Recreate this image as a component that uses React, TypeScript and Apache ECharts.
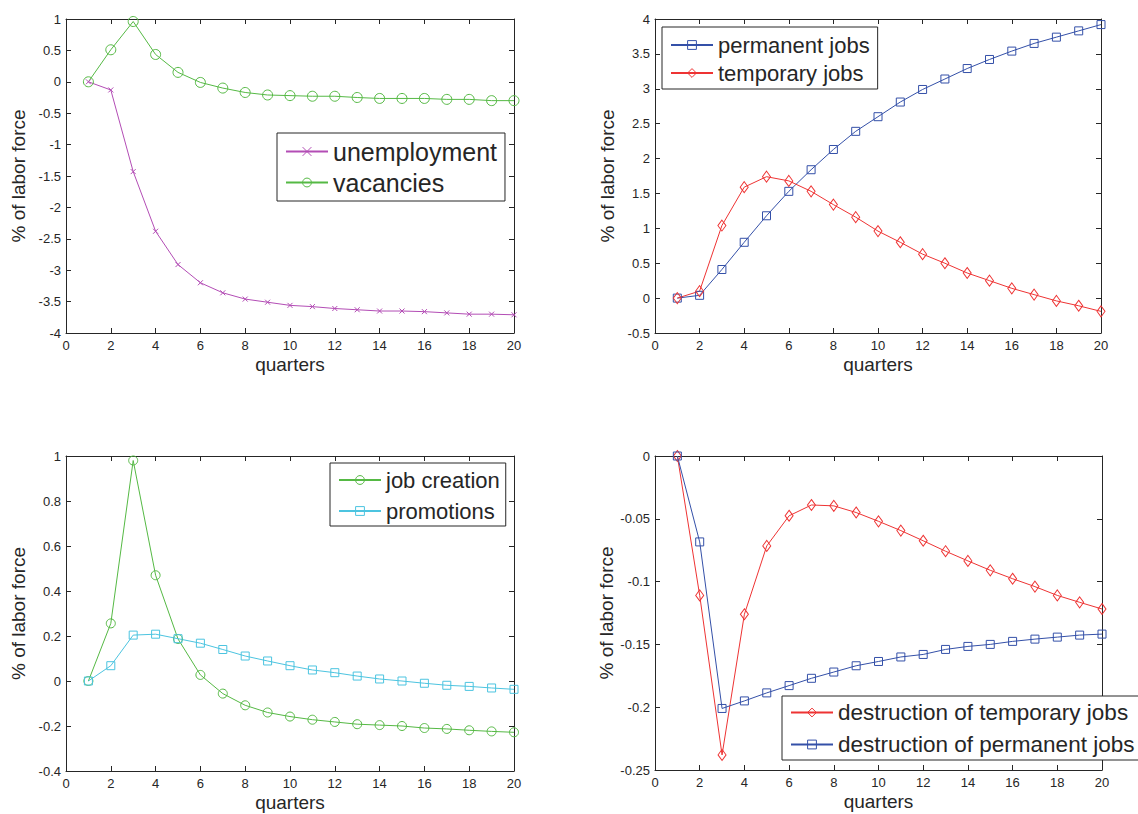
import React, { useEffect, useRef } from "react";
import * as echarts from "echarts";

const quarters = [1, 2, 3, 4, 5, 6, 7, 8, 9, 10, 11, 12, 13, 14, 15, 16, 17, 18, 19, 20];

const unemployment = [0, -0.13, -1.43, -2.38, -2.91, -3.2, -3.36, -3.46, -3.51, -3.56, -3.58, -3.61, -3.63, -3.65, -3.65, -3.66, -3.68, -3.7, -3.7, -3.71];
const vacancies = [0, 0.51, 0.96, 0.435, 0.15, -0.01, -0.1, -0.17, -0.21, -0.22, -0.23, -0.23, -0.25, -0.265, -0.265, -0.265, -0.28, -0.28, -0.3, -0.3];

const permanentJobs = [0, 0.04, 0.41, 0.8, 1.18, 1.53, 1.84, 2.13, 2.39, 2.6, 2.81, 2.99, 3.14, 3.29, 3.42, 3.54, 3.65, 3.74, 3.83, 3.92];
const temporaryJobs = [0, 0.1, 1.04, 1.59, 1.74, 1.68, 1.53, 1.34, 1.16, 0.96, 0.8, 0.63, 0.5, 0.36, 0.25, 0.14, 0.05, -0.04, -0.11, -0.19];

const jobCreation = [0, 0.256, 0.98, 0.47, 0.187, 0.027, -0.056, -0.108, -0.14, -0.158, -0.172, -0.182, -0.192, -0.196, -0.2, -0.209, -0.213, -0.219, -0.224, -0.228];
const promotions = [0, 0.068, 0.204, 0.208, 0.188, 0.168, 0.14, 0.111, 0.089, 0.068, 0.049, 0.037, 0.022, 0.009, 0.0, -0.01, -0.019, -0.024, -0.031, -0.037];

const destructionTemporary = [0, -0.111, -0.238, -0.126, -0.0716, -0.0476, -0.039, -0.0397, -0.045, -0.052, -0.0594, -0.0675, -0.0758, -0.0835, -0.091, -0.0977, -0.104, -0.111, -0.1165, -0.1218];
const destructionPermanent = [0, -0.0684, -0.201, -0.195, -0.1886, -0.1828, -0.177, -0.172, -0.167, -0.1636, -0.16, -0.158, -0.154, -0.1516, -0.15, -0.1476, -0.1458, -0.1442, -0.1426, -0.1418];

// x axis: [min, max, interval]
const xRange = [0, 20, 2];
// y axes per panel: [min, max, interval]
const yRange1 = [-4, 1, 0.5];
const yRange2 = [-0.5, 4, 0.5];
const yRange3 = [-0.4, 1, 0.2];
const yRange4 = [-0.25, 0, 0.05];

const xLabel = "quarters";
const yLabel = "% of labor force";

const AXIS = "#262626";
const FONT = "'Liberation Sans', Arial, Helvetica, sans-serif";
const C_MAG = "#b34db5";
const C_GREEN = "#55b944";
const C_BLUE = "#3450a8";
const C_RED = "#ee3333";
const C_CYAN = "#4cc4e0";
const X_SYMBOL = "path://M0,0L10,10M10,0L0,10";

const fmt = (v: number) => String(parseFloat(v.toFixed(4)));

export default function App() {
  const ref = useRef<HTMLDivElement>(null);

  useEffect(() => {
    if (!ref.current) return;
    const chart = echarts.init(ref.current, null, { renderer: "svg" });

    const grids = [
      { left: 66, top: 19, width: 448, height: 314 },
      { left: 655, top: 19, width: 446, height: 314 },
      { left: 66, top: 456, width: 448, height: 315 },
      { left: 655, top: 456, width: 447, height: 314 },
    ];
    const yRanges = [yRange1, yRange2, yRange3, yRange4];

    const xAxes: any[] = [];
    const yAxes: any[] = [];
    grids.forEach((_, i) => {
      xAxes.push({
        type: "value",
        gridIndex: i,
        position: "bottom",
        min: xRange[0],
        max: xRange[1],
        interval: xRange[2],
        name: xLabel,
        nameLocation: "middle",
        nameGap: 22,
        nameTextStyle: { fontSize: 19, color: AXIS, fontFamily: FONT },
        axisLine: { show: true, onZero: false, lineStyle: { color: AXIS, width: 1 } },
        axisTick: { show: true, inside: true, length: 5, lineStyle: { color: AXIS } },
        axisLabel: { fontSize: 13, color: AXIS, fontFamily: FONT, margin: 6, formatter: fmt },
        splitLine: { show: false },
      });
      xAxes.push({
        type: "value",
        gridIndex: i,
        position: "top",
        min: xRange[0],
        max: xRange[1],
        interval: xRange[2],
        axisLine: { show: true, onZero: false, lineStyle: { color: AXIS, width: 1 } },
        axisTick: { show: true, inside: true, length: 5, lineStyle: { color: AXIS } },
        axisLabel: { show: false },
        splitLine: { show: false },
      });
      const yr = yRanges[i];
      yAxes.push({
        type: "value",
        gridIndex: i,
        position: "left",
        min: yr[0],
        max: yr[1],
        interval: yr[2],
        name: yLabel,
        nameLocation: "middle",
        nameGap: 38,
        nameRotate: 90,
        nameTextStyle: { fontSize: 19, color: AXIS, fontFamily: FONT },
        axisLine: { show: true, onZero: false, lineStyle: { color: AXIS, width: 1 } },
        axisTick: { show: true, inside: true, length: 5, lineStyle: { color: AXIS } },
        axisLabel: { fontSize: 13, color: AXIS, fontFamily: FONT, margin: 5, formatter: fmt },
        splitLine: { show: false },
      });
      yAxes.push({
        type: "value",
        gridIndex: i,
        position: "right",
        min: yr[0],
        max: yr[1],
        interval: yr[2],
        axisLine: { show: true, onZero: false, lineStyle: { color: AXIS, width: 1 } },
        axisTick: { show: true, inside: true, length: 5, lineStyle: { color: AXIS } },
        axisLabel: { show: false },
        splitLine: { show: false },
      });
    });

    const mk = (name: string, values: number[], panel: number, color: string, symbol: string, size: any) => ({
      type: "line",
      name,
      xAxisIndex: panel * 2,
      yAxisIndex: panel * 2,
      data: quarters.map((q, k) => [q, values[k]]),
      showSymbol: true,
      symbol,
      symbolSize: size,
      lineStyle: { color, width: 1 },
      itemStyle: { color: "rgba(255,255,255,0)", borderColor: color, borderWidth: 1 },
      emphasis: { disabled: true },
      z: 3,
    });

    const series = [
      mk("unemployment", unemployment, 0, C_MAG, X_SYMBOL, 5),
      mk("vacancies", vacancies, 0, C_GREEN, "circle", 10),
      mk("permanent jobs", permanentJobs, 1, C_BLUE, "rect", 8),
      mk("temporary jobs", temporaryJobs, 1, C_RED, "diamond", [8, 11]),
      mk("job creation", jobCreation, 2, C_GREEN, "circle", 9),
      mk("promotions", promotions, 2, C_CYAN, "rect", 8),
      mk("destruction of temporary jobs", destructionTemporary, 3, C_RED, "diamond", [8, 11]),
      mk("destruction of permanent jobs", destructionPermanent, 3, C_BLUE, "rect", 8),
    ];

    const legend = (data: string[], left: number, top: number, fontSize: number, gap: number, padding: number[]) => ({
      data,
      orient: "vertical",
      left,
      top,
      itemWidth: 42,
      itemHeight: 11,
      itemGap: gap,
      padding,
      backgroundColor: "#ffffff",
      borderColor: AXIS,
      borderWidth: 1,
      borderRadius: 0,
      selectedMode: false,
      itemStyle: { borderWidth: 1 },
      textStyle: { fontSize, color: AXIS, fontFamily: FONT },
      z: 10,
    });

    chart.setOption({
      animation: false,
      backgroundColor: "#ffffff",
      grid: grids.map((g) => ({ ...g, containLabel: false })),
      xAxis: xAxes,
      yAxis: yAxes,
      series,
      legend: [
        legend(["unemployment", "vacancies"], 277, 133, 25, 6, [6, 8, 6, 8]),
        legend(["permanent jobs", "temporary jobs"], 662, 27, 22, 6, [7, 8, 5, 8]),
        legend(["job creation", "promotions"], 330, 463, 22, 9, [6, 6, 4, 8]),
        legend(["destruction of temporary jobs", "destruction of permanent jobs"], 782, 696, 22.5, 9, [5, 5, 4, 8]),
      ],
    });

    return () => chart.dispose();
  }, []);

  return (
    <div
      ref={ref}
      style={{ position: "fixed", left: 0, top: 0, width: 1138, height: 814, background: "#fff" }}
    />
  );
}
